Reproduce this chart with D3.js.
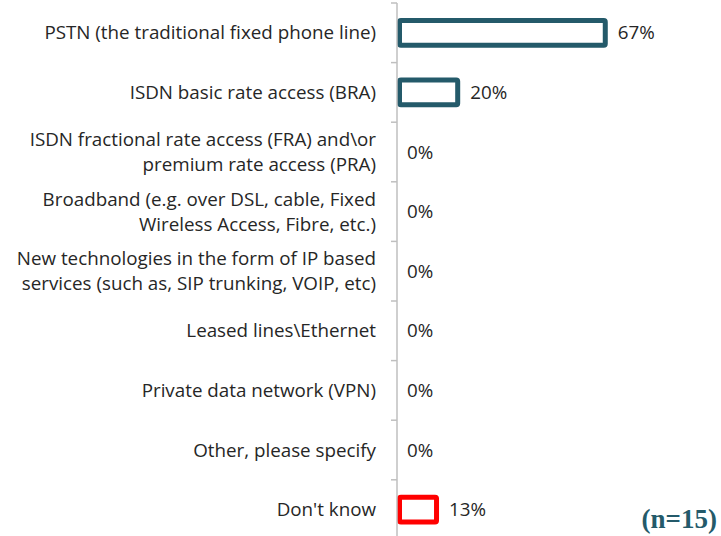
<!DOCTYPE html>
<html>
<head>
<meta charset="utf-8">
<script src="https://cdn.jsdelivr.net/npm/d3@7"></script>
<style>
  body { margin: 0; background: #fff; }
  svg { display: block; }
  .cat, .val { font-family: "Open Sans", sans-serif; font-size: 18.8px; fill: #262626; }
</style>
</head>
<body>
<svg id="chart" width="721" height="536"></svg>
<script>
// categories (lines split as in the original)
const categories = [
  ["PSTN (the traditional fixed phone line)"],
  ["ISDN basic rate access (BRA)"],
  ["ISDN fractional rate access (FRA) and\\or", "premium rate access (PRA)"],
  ["Broadband (e.g. over DSL, cable, Fixed", "Wireless Access, Fibre, etc.)"],
  ["New technologies in the form of IP based", "services (such as, SIP trunking, VOIP, etc)"],
  ["Leased lines\\Ethernet"],
  ["Private data network (VPN)"],
  ["Other, please specify"],
  ["Don't know"]
];
const values = [66.7, 20, 0, 0, 0, 0, 0, 0, 13.3];
const valueLabels = ["67%", "20%", "0%", "0%", "0%", "0%", "0%", "0%", "13%"];
const sampleNote = "(n=15)";

const svg = d3.select("#chart");
const axisX = 397;

const y = d3.scaleBand()
  .domain(d3.range(categories.length))
  .range([3, 539.4])
  .paddingInner(0.5)
  .paddingOuter(0.25);

const x = d3.scaleLinear().domain([0, 100]).range([axisX, axisX + 316]);

// bars (outlined)
const sw = 5;
const barData = values.map((v, i) => ({ v, i })).filter(d => d.v > 0);
svg.selectAll("rect.bar")
  .data(barData)
  .join("rect")
  .attr("class", "bar")
  .attr("x", x(0) + sw / 2)
  .attr("y", d => y(d.i) + sw / 2)
  .attr("width", d => x(d.v) - x(0) - sw)
  .attr("height", y.bandwidth() - sw)
  .attr("rx", 1.5)
  .attr("fill", "#fff")
  .attr("stroke", d => d.i === categories.length - 1 ? "#ff0000" : "#245a6a")
  .attr("stroke-width", sw);

// category axis
const step = y.step();
const g = svg.append("g");
g.append("line")
  .attr("x1", axisX).attr("x2", axisX)
  .attr("y1", 3).attr("y2", 536)
  .attr("stroke", "#bfbfbf").attr("stroke-width", 1.5);
g.selectAll("line.tick")
  .data(d3.range(categories.length + 1))
  .join("line")
  .attr("class", "tick")
  .attr("x1", axisX - 6).attr("x2", axisX)
  .attr("y1", i => 3 + i * step).attr("y2", i => 3 + i * step)
  .attr("stroke", "#bfbfbf").attr("stroke-width", 1.5);

// category labels
const lineH = 25;
const labels = svg.selectAll("text.cat")
  .data(categories)
  .join("text")
  .attr("class", "cat")
  .attr("text-anchor", "end")
  .attr("x", 376)
  .attr("y", (d, i) => y(i) + y.bandwidth() / 2 - (d.length - 1) * lineH / 2);
labels.selectAll("tspan")
  .data(d => d)
  .join("tspan")
  .attr("x", 376)
  .attr("dy", (d, j) => j === 0 ? "0.35em" : lineH)
  .text(d => d);

// value labels
svg.selectAll("text.val")
  .data(values)
  .join("text")
  .attr("class", "val")
  .attr("x", d => x(d) + 10)
  .attr("y", (d, i) => y(i) + y.bandwidth() / 2)
  .attr("dy", "0.35em")
  .text((d, i) => valueLabels[i]);

// sample size note
svg.append("text")
  .attr("x", 717).attr("y", 528)
  .attr("text-anchor", "end")
  .attr("font-family", "Liberation Serif, serif")
  .attr("font-weight", "bold")
  .attr("font-size", 27)
  .attr("fill", "#245a6a")
  .text(sampleNote);
</script>
</body>
</html>
